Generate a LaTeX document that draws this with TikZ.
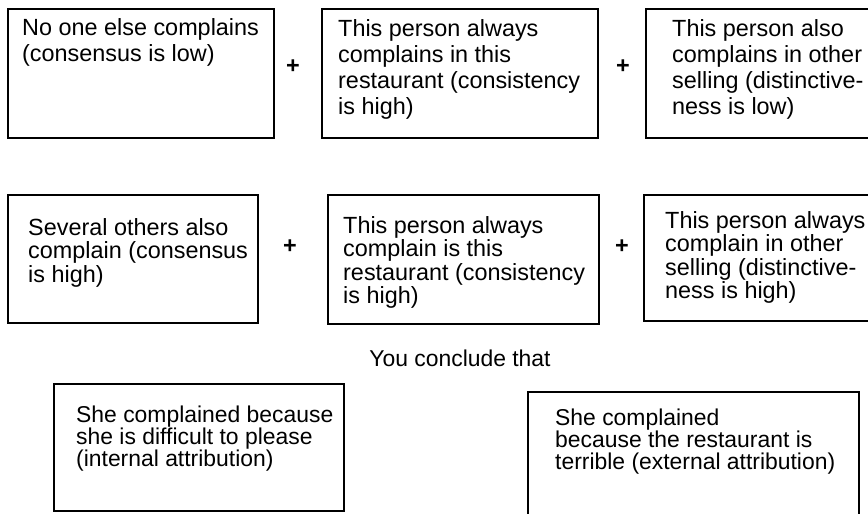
\documentclass[tikz,border=0pt]{standalone}
\usepackage{fontspec}
\setmainfont{Liberation Sans}
\usetikzlibrary{calc}
\begin{document}
\begin{tikzpicture}[x=1pt,y=-1pt,
  card/.style={draw=black, line width=1.6pt, inner sep=0pt, anchor=north west},
  cardtext/.style={inner sep=0pt, anchor=north west, align=left},
  rowA/.style={font=\fontsize{23.4}{26}\selectfont},
  rowB/.style={font=\fontsize{23.4}{23.5}\selectfont},
  rowC/.style={font=\fontsize{22.9}{21.8}\selectfont},
  plus/.style={inner sep=0pt, font=\fontsize{23.4}{26}\selectfont\bfseries}]
\useasboundingbox (0,0) rectangle (868,514);

% first row: low consensus
\node[card, minimum width=266, minimum height=129] (b1) at (7,8) {};
\node[card, minimum width=276, minimum height=129] (b2) at (321,8) {};
\node[card, minimum width=224, minimum height=129] (b3) at (645,8) {};
\node[cardtext, rowA] (t1) at (22,18) {No one else complains\\(consensus is low)};
\node[cardtext, rowA] (t2) at (338,19) {This person always\\complains in this\\restaurant (consistency\\is high)};
\node[cardtext, rowA] (t3) at (672,19) {This person also\\complains in other\\selling (distinctive-\\ness is low)};
\node[plus] (p1) at (293,67) {+};
\node[plus] (p2) at (623,67) {+};

% second row: high consensus
\node[card, minimum width=250, minimum height=128] (b4) at (7,194) {};
\node[card, minimum width=271, minimum height=129] (b5) at (327,194) {};
\node[card, minimum width=226, minimum height=126] (b6) at (643,194) {};
\node[cardtext, rowB] (t4) at (28,218) {Several others also\\complain (consensus\\is high)};
\node[cardtext, rowB] (t5) at (343,216) {This person always\\complain is this\\restaurant (consistency\\is high)};
\node[cardtext, rowB] (t6) at (665,211) {This person always\\complain in other\\selling (distinctive-\\ness is high)};
\node[plus] (p3) at (290,247) {+};
\node[plus] (p4) at (622,247) {+};

% conclusions
\node[inner sep=0pt, font=\fontsize{22.9}{26}\selectfont] (concl) at (460,358) {You conclude that};
\node[card, minimum width=290, minimum height=127] (b7) at (53,383) {};
\node[card, minimum width=331, minimum height=126] (b8) at (527,391) {};
\node[cardtext, rowC] (t7) at (76,406) {She complained because\\she is difficult to please\\(internal attribution)};
\node[cardtext, rowC] (t8) at (555,409) {She complained\\because the restaurant is\\terrible (external attribution)};
\end{tikzpicture}
\end{document}
